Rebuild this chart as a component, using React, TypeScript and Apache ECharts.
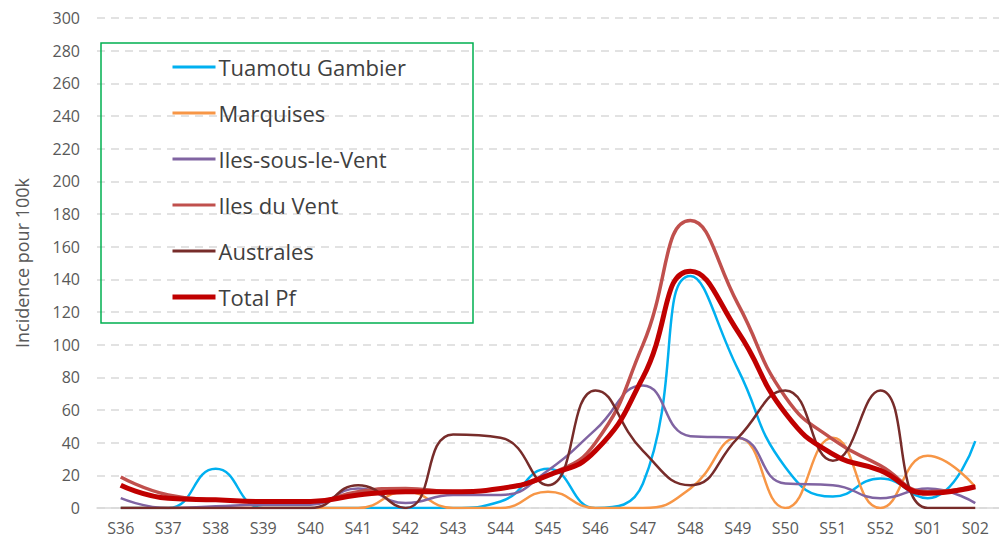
import React, { useEffect, useRef } from "react";
import * as echarts from "echarts";

const categories = ["S36","S37","S38","S39","S40","S41","S42","S43","S44","S45","S46","S47","S48","S49","S50","S51","S52","S01","S02"];
const tuamotu =  [0, 0, 24, 0, 0, 0, 0, 0, 4, 24, 0, 15, 142, 85, 25, 7, 18, 6, 41];
const marquises = [0, 0, 0, 0, 0, 0, 10, 0, 0, 10, 0, 0, 12, 43, 0, 43, 0, 32, 13];
const islv =     [6, 0, 1, 2, 2, 12, 3, 8, 8, 23, 48, 75, 44, 43, 15, 14, 6, 12, 3];
const idv =      [19, 8, 5, 4, 4, 10, 12, 10, 12, 20, 40, 100, 176, 125, 68, 42, 26, 10, 13];
const australes = [0, 0, 0, 0, 0, 14, 0, 45, 43, 14, 72, 35, 14, 43, 72, 29, 72, 0, 0];
const totalPf =  [14, 6, 5, 4, 4, 8, 10, 10, 12, 20, 35, 80, 145, 108, 58, 33, 23, 9, 13];

const seriesNames = ["Tuamotu Gambier", "Marquises", "Iles-sous-le-Vent", "Iles du Vent", "Australes", "Total Pf"];
const seriesColors = ["#00B0F0", "#F79646", "#8064A2", "#C0504D", "#772C2A", "#C00000"];
const seriesWidths = [2.5, 2.5, 2.5, 3.5, 2.5, 5];
const seriesData = [tuamotu, marquises, islv, idv, australes, totalPf];

const FONT = "Open Sans";

export default function App() {
  const ref = useRef<HTMLDivElement>(null);
  useEffect(() => {
    const chart = echarts.init(ref.current!, null, { renderer: "svg" });
    chart.setOption({
      animation: false,
      backgroundColor: "#fff",
      textStyle: { fontFamily: FONT },
      grid: { left: 97, top: 18, width: 907, bottom: 36, containLabel: false },
      xAxis: {
        type: "category",
        data: categories,
        boundaryGap: true,
        axisLine: { show: true, lineStyle: { color: "#D9D9D9", width: 1.5 } },
        axisTick: { show: false },
        axisLabel: { color: "#595959", fontSize: 16, margin: 12, fontFamily: FONT },
      },
      yAxis: {
        type: "value",
        min: 0,
        max: 300,
        interval: 20,
        name: "Incidence pour 100k",
        nameLocation: "middle",
        nameGap: 66,
        nameTextStyle: { color: "#595959", fontSize: 18, fontFamily: FONT },
        axisLine: { show: false },
        axisTick: { show: false },
        axisLabel: { color: "#595959", fontSize: 16, margin: 17, fontFamily: FONT },
        splitLine: { lineStyle: { color: "#D9D9D9", type: [8, 6], width: 1.5 } },
      },
      legend: {
        orient: "vertical",
        left: 170,
        top: 53,
        padding: 0,
        itemGap: 18,
        itemWidth: 43,
        itemHeight: 14,
        data: seriesNames.map((name, i) => ({
          name,
          lineStyle: { width: seriesWidths[i] === 5 ? 5 : 3, color: seriesColors[i] },
        })),
        itemStyle: { opacity: 0 },
        textStyle: { color: "#404040", fontSize: 22, lineHeight: 28, fontFamily: FONT, padding: [0, 0, 0, -2] },
      },
      graphic: [
        {
          type: "rect",
          shape: { x: 101, y: 43, width: 372, height: 280 },
          style: { fill: "none", stroke: "#00B050", lineWidth: 1.5 },
          z: 100,
        },
      ],
      series: seriesNames.map((name, i) => ({
        name,
        type: "line",
        data: seriesData[i],
        smooth: 0.5,
        symbol: "none",
        lineStyle: { color: seriesColors[i], width: seriesWidths[i] },
        itemStyle: { color: seriesColors[i] },
      })),
    });
    return () => chart.dispose();
  }, []);
  return <div ref={ref} style={{ width: 999, height: 544, position: "absolute", left: 0, top: 0 }} />;
}
